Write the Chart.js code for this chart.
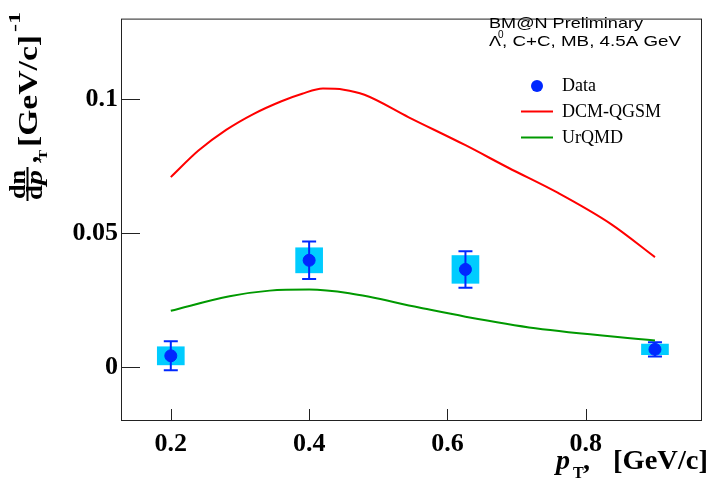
<!DOCTYPE html>
<html>
<head>
<meta charset="utf-8">
<script src="https://cdn.jsdelivr.net/npm/chart.js@4.4.1/dist/chart.umd.min.js"></script>
<style>
    html, body { margin: 0; padding: 0; background: #fff; }
</style>
</head>
<body>
<canvas id="chart" width="709" height="492"></canvas>
<script>
/* Measured data points (pT in GeV/c) */
const dataPt = [0.2, 0.4, 0.626, 0.9];
const dataY = [0.0043, 0.0399, 0.0365, 0.0067];
const statErr = [0.0054, 0.0070, 0.0068, 0.0027];
const sysErr = [0.0035, 0.0048, 0.0053, 0.0021];
const sysHalfWidth = 0.02;   // half width of the systematic boxes, GeV/c

/* Model curves */
const dcmPt = [0.2, 0.24, 0.28, 0.32, 0.36, 0.39, 0.42, 0.45, 0.48, 0.544, 0.626, 0.688, 0.76, 0.836, 0.9];
const dcmY = [0.0709, 0.0808, 0.0885, 0.0945, 0.0992, 0.1020, 0.1039, 0.1035, 0.1016, 0.0932, 0.0828, 0.0744, 0.0650, 0.0535, 0.0411];
const urqmdPt = [0.2, 0.285, 0.343, 0.4, 0.458, 0.559, 0.626, 0.727, 0.9];
const urqmdY = [0.0211, 0.0265, 0.0286, 0.029, 0.0276, 0.0223, 0.0189, 0.0146, 0.0100];

/* Axis ticks */
const xTicks = [0.2, 0.4, 0.6, 0.8];
const yTicks = [0, 0.05, 0.1];

const BLUE = '#0028ff';
const CYAN = '#00ccff';
const SERIF = '"Liberation Serif", "Times New Roman", serif';
const SANS = '"Liberation Sans", Arial, sans-serif';

const toXY = (xs, ys) => xs.map((v, i) => ({ x: v, y: ys[i] }));

/* draw text squeezed/stretched horizontally to a given width */
function fitText(ctx, text, x, y, width) {
    const w = ctx.measureText(text).width;
    ctx.save();
    ctx.translate(x, y);
    ctx.scale(width / w, 1);
    ctx.fillText(text, 0, 0);
    ctx.restore();
}

/* Systematic boxes and statistical error bars */
const errorBars = {
    id: 'errorBars',
    beforeDatasetsDraw(chart) {
        const { ctx, scales: { x, y } } = chart;
        ctx.save();
        ctx.fillStyle = CYAN;
        dataPt.forEach((p, i) => {
            const x0 = x.getPixelForValue(p - sysHalfWidth);
            const x1 = x.getPixelForValue(p + sysHalfWidth);
            const y0 = y.getPixelForValue(dataY[i] + sysErr[i]);
            const y1 = y.getPixelForValue(dataY[i] - sysErr[i]);
            ctx.fillRect(x0, y0, x1 - x0, y1 - y0);
        });
        ctx.strokeStyle = BLUE;
        ctx.lineWidth = 2;
        dataPt.forEach((p, i) => {
            const px = x.getPixelForValue(p);
            const yt = y.getPixelForValue(dataY[i] + statErr[i]);
            const yb = y.getPixelForValue(dataY[i] - statErr[i]);
            ctx.beginPath();
            ctx.moveTo(px, yt); ctx.lineTo(px, yb);
            ctx.moveTo(px - 7, yt); ctx.lineTo(px + 7, yt);
            ctx.moveTo(px - 7, yb); ctx.lineTo(px + 7, yb);
            ctx.stroke();
        });
        ctx.restore();
    }
};

/* Frame, inner ticks, titles and legend (ROOT style) */
const decorations = {
    id: 'decorations',
    afterDraw(chart) {
        const { ctx, chartArea: a, scales: { x, y } } = chart;
        ctx.save();
        // frame
        ctx.strokeStyle = '#222';
        ctx.lineWidth = 1;
        ctx.strokeRect(a.left + 0.5, a.top + 0.5, a.right - a.left - 1, a.bottom - a.top - 1);
        // ticks pointing inwards
        ctx.beginPath();
        xTicks.forEach(v => {
            const px = Math.round(x.getPixelForValue(v)) + 0.5;
            ctx.moveTo(px, a.bottom); ctx.lineTo(px, a.bottom - 12);
        });
        yTicks.forEach(v => {
            const py = Math.round(y.getPixelForValue(v)) + 0.5;
            ctx.moveTo(a.left, py); ctx.lineTo(a.left + 19, py);
        });
        ctx.stroke();

        ctx.fillStyle = '#000';
        ctx.textAlign = 'left';
        ctx.textBaseline = 'alphabetic';

        // x title: p_T, [GeV/c]
        ctx.font = 'italic bold 28px ' + SERIF;
        ctx.fillText('p', 556, 469);
        ctx.font = 'bold 16px ' + SERIF;
        ctx.fillText('T', 573, 478);
        ctx.font = 'bold 28px ' + SERIF;
        ctx.fillText(',', 583, 469);
        fitText(ctx, '[GeV/c]', 613, 469, 95);

        // y title: dn/dp_T, [GeV/c]^-1 (rotated)
        ctx.save();
        ctx.translate(0, 200);
        ctx.rotate(-Math.PI / 2);
        ctx.font = 'bold 24px ' + SERIF;
        fitText(ctx, 'dn', 1, 25, 29);
        ctx.fillRect(-1, 26.5, 34, 2);
        ctx.font = 'bold 24px ' + SERIF;
        fitText(ctx, 'd', 0, 42, 15);
        ctx.font = 'italic bold 24px ' + SERIF;
        fitText(ctx, 'p', 15, 42, 15);
        ctx.font = 'bold 13px ' + SERIF;
        fitText(ctx, 'T', 40, 47, 10);
        ctx.font = 'bold 28px ' + SERIF;
        ctx.fillText(',', 37, 37);
        fitText(ctx, '[GeV/c]', 53, 37, 112);
        ctx.font = 'bold 16px ' + SERIF;
        fitText(ctx, '-1', 168, 20, 20);
        ctx.restore();

        // top right label
        ctx.fillStyle = '#000';
        ctx.font = '15px ' + SANS;
        fitText(ctx, 'BM@N Preliminary', 489, 28, 154);
        fitText(ctx, '\u039B', 489, 46, 12);
        ctx.font = '10px ' + SANS;
        ctx.fillText('0', 498, 38);
        ctx.font = '15px ' + SANS;
        fitText(ctx, ', C+C, MB, 4.5A GeV', 502, 46, 179);

        // legend
        ctx.fillStyle = BLUE;
        ctx.beginPath();
        ctx.arc(537, 86, 6, 0, Math.PI * 2);
        ctx.fill();
        ctx.lineWidth = 2;
        ctx.strokeStyle = '#ff0000';
        ctx.beginPath(); ctx.moveTo(521, 111.5); ctx.lineTo(553, 111.5); ctx.stroke();
        ctx.strokeStyle = '#009900';
        ctx.beginPath(); ctx.moveTo(521, 137.5); ctx.lineTo(553, 137.5); ctx.stroke();
        ctx.fillStyle = '#000';
        ctx.font = '18px ' + SERIF;
        ctx.textBaseline = 'middle';
        ctx.fillText('Data', 562, 86);
        ctx.fillText('DCM-QGSM', 562, 112);
        ctx.fillText('UrQMD', 562, 138);
        ctx.restore();
    }
};

const tickFont = { family: SERIF, size: 26, weight: 'bold' };

new Chart(document.getElementById('chart'), {
    type: 'scatter',
    data: {
        datasets: [
            {
                label: 'Data',
                data: toXY(dataPt, dataY),
                backgroundColor: BLUE,
                borderColor: BLUE,
                pointRadius: 6,
                pointHoverRadius: 6
            },
            {
                label: 'DCM-QGSM',
                type: 'line',
                data: toXY(dcmPt, dcmY),
                borderColor: '#ff0000',
                borderWidth: 2,
                pointRadius: 0,
                cubicInterpolationMode: 'monotone',
                fill: false
            },
            {
                label: 'UrQMD',
                type: 'line',
                data: toXY(urqmdPt, urqmdY),
                borderColor: '#009900',
                borderWidth: 2,
                pointRadius: 0,
                cubicInterpolationMode: 'monotone',
                fill: false
            }
        ]
    },
    options: {
        responsive: false,
        animation: false,
        devicePixelRatio: 1,
        layout: { padding: { top: 11, right: 5, left: 0, bottom: 0 } },
        plugins: {
            legend: { display: false },
            tooltip: { enabled: false }
        },
        scales: {
            x: {
                type: 'linear',
                min: 0.128,
                max: 0.968,
                offset: false,
                grid: { display: false, drawTicks: false },
                border: { display: false },
                afterBuildTicks: s => { s.ticks = xTicks.map(v => ({ value: v })); },
                afterFit: s => { s.height = 71; },
                ticks: {
                    font: tickFont,
                    color: '#000',
                    padding: 8,
                    maxRotation: 0,
                    callback: v => String(v)
                }
            },
            y: {
                type: 'linear',
                min: -0.02,
                max: 0.13,
                grid: { display: false, drawTicks: false },
                border: { display: false },
                afterBuildTicks: s => { s.ticks = yTicks.map(v => ({ value: v })); },
                afterFit: s => { s.width = 121; },
                ticks: {
                    font: tickFont,
                    color: '#000',
                    padding: 3,
                    callback: v => String(v)
                }
            }
        }
    },
    plugins: [errorBars, decorations]
});
</script>
</body>
</html>
